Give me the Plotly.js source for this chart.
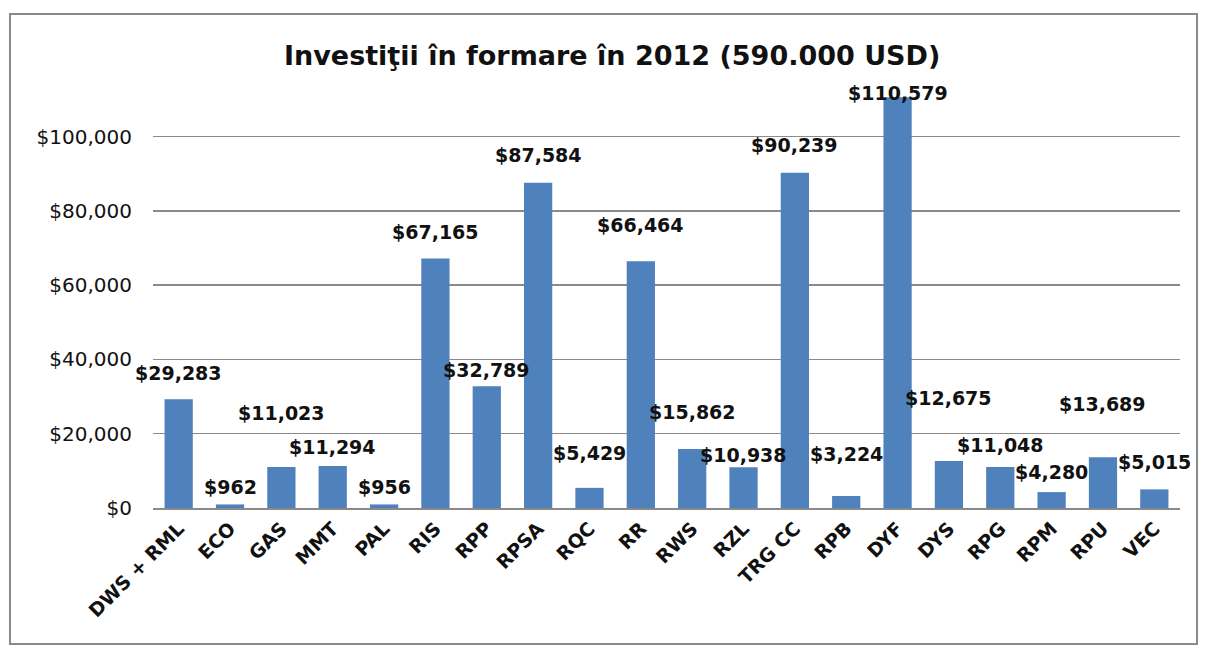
<!DOCTYPE html>
<html>
<head>
<meta charset="utf-8">
<script src="https://cdn.plot.ly/plotly-3.0.1.min.js"></script>
<style>
  html, body { margin: 0; padding: 0; background: #fff; }
  #chart { width: 1205px; height: 653px; position: relative; }
  #frame { position: absolute; left: 9px; top: 13px; width: 1189px; height: 632px; border: 2px solid #8a8a8a; pointer-events: none; box-sizing: border-box; }
</style>
</head>
<body>
<div id="chart"></div>
<div id="frame"></div>
<script>
const categories = ["DWS + RML", "ECO", "GAS", "MMT", "PAL", "RIS", "RPP", "RPSA", "RQC", "RR",
                    "RWS", "RZL", "TRG CC", "RPB", "DYF", "DYS", "RPG", "RPM", "RPU", "VEC"];
const values = [29283, 962, 11023, 11294, 956, 67165, 32789, 87584, 5429, 66464,
                15862, 10938, 90239, 3224, 110579, 12675, 11048, 4280, 13689, 5015];
const tickValues = [0, 20000, 40000, 60000, 80000, 100000];
const tickLabels = ["$0", "$20,000", "$40,000", "$60,000", "$80,000", "$100,000"];
const chartTitle = "Investiţii în formare în 2012 (590.000 USD)";

// label placement (pixels above the bar top), as in the original chart layout
const labelLift = [26, 17, 54, 19, 17, 27, 16, 28, 35, 36, 37, 12, 28, 42, 4, 63, 22, 20, 53, 27];

const valueLabels = values.map(v => "$" + v.toLocaleString("en-US"));

const trace = {
  type: "bar",
  x: categories,
  y: values,
  marker: { color: "#4F81BD", line: { width: 0 } },
  hoverinfo: "x+y"
};

const annotations = categories.map((c, i) => ({
  x: c,
  y: values[i],
  xref: "x",
  yref: "y",
  text: "<b>" + valueLabels[i] + "</b>",
  showarrow: false,
  yanchor: "middle",
  yshift: labelLift[i],
  font: { family: "DejaVu Sans, Verdana, sans-serif", size: 19, color: "#111" }
}));

const layout = {
  width: 1205,
  height: 653,
  paper_bgcolor: "#ffffff",
  plot_bgcolor: "#ffffff",
  margin: { l: 153, r: 25, t: 92, b: 145 },
  title: {
    text: "<b>" + chartTitle + "</b>",
    x: 0.508,
    xanchor: "center",
    y: 0.915,
    yanchor: "middle",
    font: { family: "DejaVu Sans, Verdana, sans-serif", size: 27, color: "#111" }
  },
  bargap: 0.45,
  showlegend: false,
  xaxis: {
    type: "category",
    range: [-0.5, categories.length - 0.5],
    tickangle: -45,
    tickfont: { family: "DejaVu Sans, Verdana, sans-serif", size: 19, color: "#111", weight: "bold" },
    showline: true,
    linecolor: "#8a8a8a",
    linewidth: 2,
    ticks: "",
    showgrid: false,
    automargin: false
  },
  yaxis: {
    range: [0, 112000],
    tickmode: "array",
    tickvals: tickValues,
    ticktext: tickLabels,
    tickfont: { family: "DejaVu Sans, Verdana, sans-serif", size: 20, color: "#111" },
    showgrid: true,
    gridcolor: "#8a8a8a",
    gridwidth: 1.5,
    zeroline: false,
    showline: false,
    ticks: "",
    ticklabelstandoff: 20,
    automargin: false
  },
  annotations: annotations
};

Plotly.newPlot("chart", [trace], layout, { displayModeBar: false, staticPlot: true });
</script>
</body>
</html>
